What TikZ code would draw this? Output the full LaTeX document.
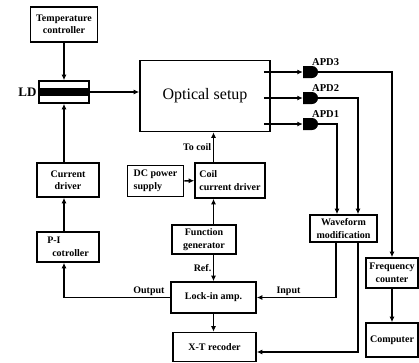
\documentclass[tikz,border=0pt]{standalone}
\usepackage{fontspec}
\setmainfont{Liberation Serif}
\usetikzlibrary{arrows.meta,shapes.misc,calc}

\begin{document}
\begin{tikzpicture}[
  x=1pt, y=-1pt,
  >={Latex[length=5.5pt,width=5pt]},
  box/.style={rectangle, draw, line width=1.6pt, inner sep=1.5pt, align=center, font=\bfseries\fontsize{10}{12.5}\selectfont},
  apd/.style={rounded rectangle, rounded rectangle left arc=none, fill=black, minimum width=15pt, minimum height=12pt, inner sep=0pt},
  apdlbl/.style={font=\bfseries\fontsize{10.5}{12}\selectfont, inner sep=0pt},
  arr/.style={->, line width=1.5pt},
  lbl/.style={font=\bfseries\fontsize{10}{12}\selectfont, inner sep=1.5pt},
]
\useasboundingbox (0,0) rectangle (419,362);

\node[box, minimum width=67pt, minimum height=35pt] (temp) at (64,24.5) {Temperature\\controller};
\node[box, minimum width=50pt, minimum height=22pt, label={[lbl, font=\bfseries\fontsize{13}{13}\selectfont]left:LD}] (ld) at (64,92) {};
\fill ([yshift=4pt]ld.west) rectangle ([yshift=-4pt]ld.east);
\node[box, minimum width=130pt, minimum height=71pt, font=\fontsize{16}{18}\selectfont] (optical) at (205,96) {Optical setup};

\node[apd, label={[apdlbl]north east:APD3}] (apd3) at (310.5,72) {};
\node[apd, label={[apdlbl]north east:APD2}] (apd2) at (310.5,98) {};
\node[apd, label={[apdlbl]north east:APD1}] (apd1) at (310.5,124) {};

\node[box, minimum width=62pt, minimum height=34pt] (cur) at (68,180) {Current\\driver};
\node[box, minimum width=62pt, minimum height=30pt, align=left] (pi) at (68,247) {P-I\\\ \ cotroller};
\node[box, minimum width=56pt, minimum height=31pt, align=left] (dc) at (155.5,181) {DC power\\supply};
\node[box, minimum width=70pt, minimum height=35pt, align=left] (coil) at (230,180.5) {Coil\\current driver};
\node[box, minimum width=64pt, minimum height=29pt] (func) at (204,239.5) {Function\\generator};
\node[box, minimum width=85pt, minimum height=31pt] (lockin) at (213.5,297.5) {Lock-in amp.};
\node[box, minimum width=83pt, minimum height=29pt] (xt) at (214.5,347) {X-T recoder};
\node[box, minimum width=67pt, minimum height=27pt] (wave) at (343.5,228.5) {Waveform\\modification};
\node[box, minimum width=52pt, minimum height=30pt] (freq) at (392,273) {Frequency\\counter};
\node[box, minimum width=52pt, minimum height=34pt] (comp) at (392,340) {Computer};

\draw[arr] (temp) -- (ld);
\draw[arr] (ld.east) -- (ld.east -| optical.west);
\draw[arr] (cur.north -| ld) -- (ld);
\draw[arr] (pi.north -| ld) -- (cur.south -| ld);
\draw[arr] (lockin.west) -| node[lbl, above, pos=0.1] {Output} (pi.south -| ld);

\draw[arr] ($(optical.east |- apd3)+(-7,0)$) -- (apd3.west);
\draw[arr] ($(optical.east |- apd2)+(-7,0)$) -- (apd2.west);
\draw[arr] ($(optical.east |- apd1)+(-7,0)$) -- (apd1.west);
\draw[arr] (apd3.east) -| (freq.north);
\draw[arr] (apd2.east) -| ($(wave.north)+(14.5,0)$);
\draw[arr] (apd1.east) -| ($(wave.north)+(-6.5,0)$);
\draw[arr] ($(wave.south)+(-7.5,0)$) |- node[lbl, above, pos=0.8] {Input} (lockin.east);
\draw[arr] ($(wave.south)+(14.5,0)$) |- ($(xt.east)+(0,5)$);
\draw[arr] (freq) -- (comp);

\draw[arr] (dc) -- (coil);
\draw[arr] (func.north -| lockin) -- (coil.south -| lockin);
\draw[arr] (coil.north -| lockin) -- node[lbl, left] {To coil} (optical.south -| lockin);
\draw[arr] (func.south -| lockin) -- node[lbl, left] {Ref.} (lockin.north);
\draw[arr] (lockin.south) -- (lockin.south |- xt.north);

\end{tikzpicture}
\end{document}
